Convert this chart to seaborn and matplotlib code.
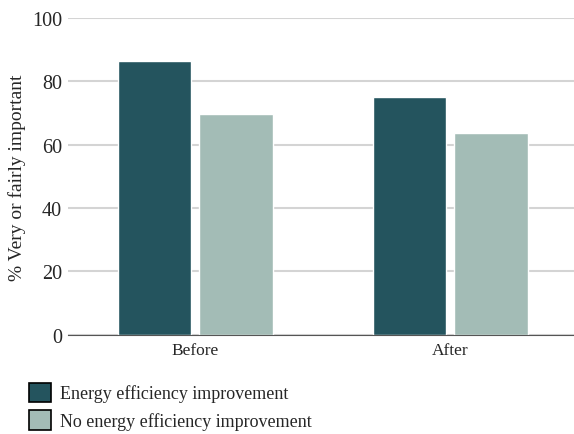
import pandas as pd
import matplotlib.pyplot as plt
import seaborn as sns

periods = ['Before', 'After']
groups = ['Energy efficiency improvement', 'No energy efficiency improvement']
energy_improved = [86.4, 75.1]
no_improvement = [69.7, 63.7]
colors = ['#24545e', '#a3bcb6']

df = pd.DataFrame({
    'period': periods * 2,
    'group': [groups[0]] * 2 + [groups[1]] * 2,
    'value': energy_improved + no_improvement,
})

sns.set_style('white')
plt.rcParams['font.family'] = ['Liberation Serif', 'DejaVu Serif']

fig = plt.figure(figsize=(5.74, 4.35), dpi=100)
ax = fig.add_axes([0.118, 0.228, 0.882, 0.728])

sns.barplot(data=df, x='period', y='value', hue='group', palette=colors,
            width=0.64, gap=0.1, ax=ax, legend=False, saturation=1)

ax.set_ylim(0, 100)
ax.set_xlim(-0.5, 1.485)
ax.set_yticks([0, 20, 40, 60, 80, 100])
ax.yaxis.grid(True, color='#d4d4d4', linewidth=1.5)
ax.set_axisbelow(True)
for s in ['top', 'right', 'left']:
    ax.spines[s].set_visible(False)
ax.spines['bottom'].set_color('#555555')
ax.tick_params(axis='y', length=0, labelsize=14.5, pad=4)
ax.tick_params(axis='x', length=0, labelsize=12.5, pad=5)
ax.set_xlabel('')
ax.set_ylabel('% Very or fairly important', fontsize=14, labelpad=4)

handles = [plt.Rectangle((0, 0), 1, 1, facecolor=c, edgecolor='black', linewidth=1.2) for c in colors]
fig.legend(handles, groups, loc='upper left', bbox_to_anchor=(0.05, 0.118),
           frameon=False, fontsize=13, handlelength=1.25, handleheight=1.25,
           handletextpad=0.5, labelspacing=0.45, borderaxespad=0, borderpad=0)

fig.savefig('out.png', dpi=100)
